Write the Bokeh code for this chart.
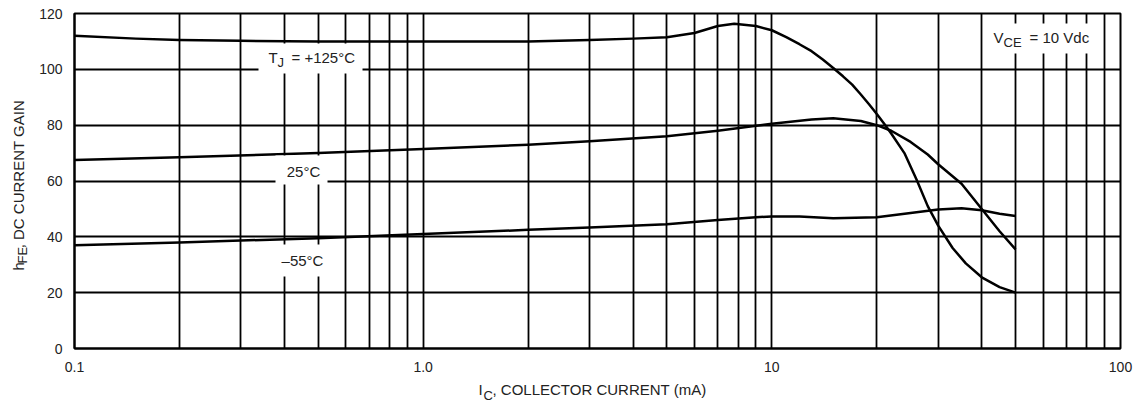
import math
from bokeh.plotting import figure
from bokeh.layouts import column, row
from bokeh.models import Range1d, FixedTicker, Label, BoxAnnotation
from bokeh.embed import file_html
from bokeh.resources import INLINE

# ---------------- data ----------------
ic_125 = [0.1, 0.15, 0.2, 0.3, 0.5, 1.0, 2.0, 3.0, 4.0, 5.0, 6.0, 7.0, 7.8, 9.0, 10, 11, 12, 13, 14, 15, 16, 17, 18, 19, 20, 21, 22, 24, 26, 28, 30, 33, 36, 40, 45, 50]
hfe_125 = [112, 111, 110.5, 110.2, 110, 110, 110, 110.5, 111, 111.5, 113, 115.5, 116.3, 115.5, 114, 111.5, 109, 106.5, 103.5, 100.5, 97.5, 94.5, 91, 87.5, 84, 80.5, 77, 70, 60.5, 51, 44, 36, 30.5, 25.5, 22, 20]

ic_25 = [0.1, 0.2, 0.5, 1.0, 2.0, 3.0, 5.0, 7.0, 10, 13, 15, 18, 20, 22, 25, 28, 30, 35, 40, 45, 50]
hfe_25 = [67.5, 68.5, 70, 71.5, 73, 74.2, 76, 78, 80.5, 82, 82.5, 81.5, 80, 78, 74, 69.5, 66, 59, 50, 42, 35.5]

ic_m55 = [0.1, 0.2, 0.5, 1.0, 2.0, 3.0, 5.0, 7.0, 9.0, 10, 12, 15, 20, 25, 30, 35, 40, 45, 50]
hfe_m55 = [37, 38, 39.5, 41, 42.5, 43.3, 44.5, 46, 47, 47.3, 47.3, 46.7, 47, 48.5, 49.8, 50.2, 49.5, 48.3, 47.5]

x_major = [0.1, 1, 10, 100]
x_major_labels = {0.1: "0.1", 1: "1.0", 10: "10", 100: "100"}
x_grid = [m * d for d in (0.1, 1, 10) for m in range(1, 10)] + [100]
y_ticks = [0, 20, 40, 60, 80, 100, 120]

FONT = "Liberation Sans"
TXT = "#222222"

# page geometry (pixels) used only for placing annotations
YLW = 30                       # width of the strip holding the y-axis title
FL, FR, FT, FB = 74, 1120, 13, 348
MAIN_H = 378
XL_H = 30
TOTAL_W = 1134

def dx(px):
    return 10 ** (-1 + 3 * (px - FL) / (FR - FL))
def dy(py):
    return 120 * (FB - py) / (FB - FT)

p = figure(x_axis_type="log", x_range=Range1d(0.1, 100), y_range=Range1d(0, 120),
           frame_width=FR - FL, frame_height=FB - FT,
           min_border_left=FL - YLW, min_border_top=FT, min_border_right=TOTAL_W - FR,
           min_border_bottom=MAIN_H - FB,
           output_backend="svg", toolbar_location=None, background_fill_color="white")

p.outline_line_color = "black"
p.outline_line_width = 2

p.xaxis.ticker = FixedTicker(ticks=x_major)
p.xaxis.major_label_overrides = x_major_labels
p.yaxis.ticker = FixedTicker(ticks=y_ticks)
for ax in (p.xaxis, p.yaxis):
    ax.axis_line_color = "black"
    ax.axis_line_width = 2
    ax.major_tick_line_color = None
    ax.minor_tick_line_color = None
    ax.major_label_text_font = FONT
    ax.major_label_text_font_size = "14px"
    ax.major_label_text_color = TXT
p.xaxis.major_label_standoff = 7
p.yaxis.major_label_standoff = 6

p.xgrid.ticker = FixedTicker(ticks=x_grid)
p.ygrid.ticker = FixedTicker(ticks=y_ticks)
for g in (p.xgrid, p.ygrid):
    g.grid_line_color = "black"
    g.grid_line_width = 1.8
    g.grid_line_alpha = 1

for xs, ys in ((ic_125, hfe_125), (ic_25, hfe_25), (ic_m55, hfe_m55)):
    p.line(xs, ys, line_color="black", line_width=2.5, line_join="round")

# white boxes behind the in-plot labels
for l, r, t, b in ((258, 362, 43, 73), (275, 327, 155, 184), (275, 330, 244, 276), (985, 1100, 23, 53)):
    p.add_layout(BoxAnnotation(left=dx(l), right=dx(r), top=dy(t), bottom=dy(b),
                               fill_color="white", fill_alpha=1, line_color=None))

def lab(fig, x, y, text, size=15, align="left", angle=0.0):
    fig.add_layout(Label(x=x, y=y, text=text, text_font=FONT, text_font_size=f"{size}px",
                         text_color=TXT, text_align=align, text_baseline="middle", angle=angle))

# T_J = +125°C
lab(p, dx(268), dy(57), "T")
lab(p, dx(277), dy(62), "J", 13)
lab(p, dx(291), dy(57), "= +125°C")
lab(p, dx(303), dy(171), "25°C", align="center")
lab(p, dx(302), dy(260), "\u201355°C", align="center")
# V_CE = 10 Vdc
lab(p, dx(993), dy(37), "V")
lab(p, dx(1003), dy(42), "CE", 13)
lab(p, dx(1029), dy(37), "= 10 Vdc")

def strip(w, h):
    f = figure(width=w, height=h, x_range=Range1d(0, w), y_range=Range1d(0, h),
               min_border=0, x_axis_location=None, y_axis_location=None,
               output_backend="svg", toolbar_location=None)
    f.outline_line_color = None
    f.grid.visible = False
    return f

# y axis title strip (coordinates: pixels from left / from bottom)
yl = strip(YLW, MAIN_H)
A = math.pi / 2
lab(yl, 18, MAIN_H - 290, "h", angle=A)
lab(yl, 22, MAIN_H - 282, "FE", 13, angle=A)
lab(yl, 18, MAIN_H - 265, ", DC CURRENT GAIN", angle=A)

# x axis title strip
xl = strip(TOTAL_W, XL_H)
lab(xl, 478, XL_H - (389 - MAIN_H), "I")
lab(xl, 483, XL_H - (395 - MAIN_H), "C", 13)
lab(xl, 492, XL_H - (389 - MAIN_H), ", COLLECTOR CURRENT (mA)")

layout = column(row(yl, p, spacing=0), xl, spacing=0)
open("out.html", "w").write(file_html(layout, INLINE))
